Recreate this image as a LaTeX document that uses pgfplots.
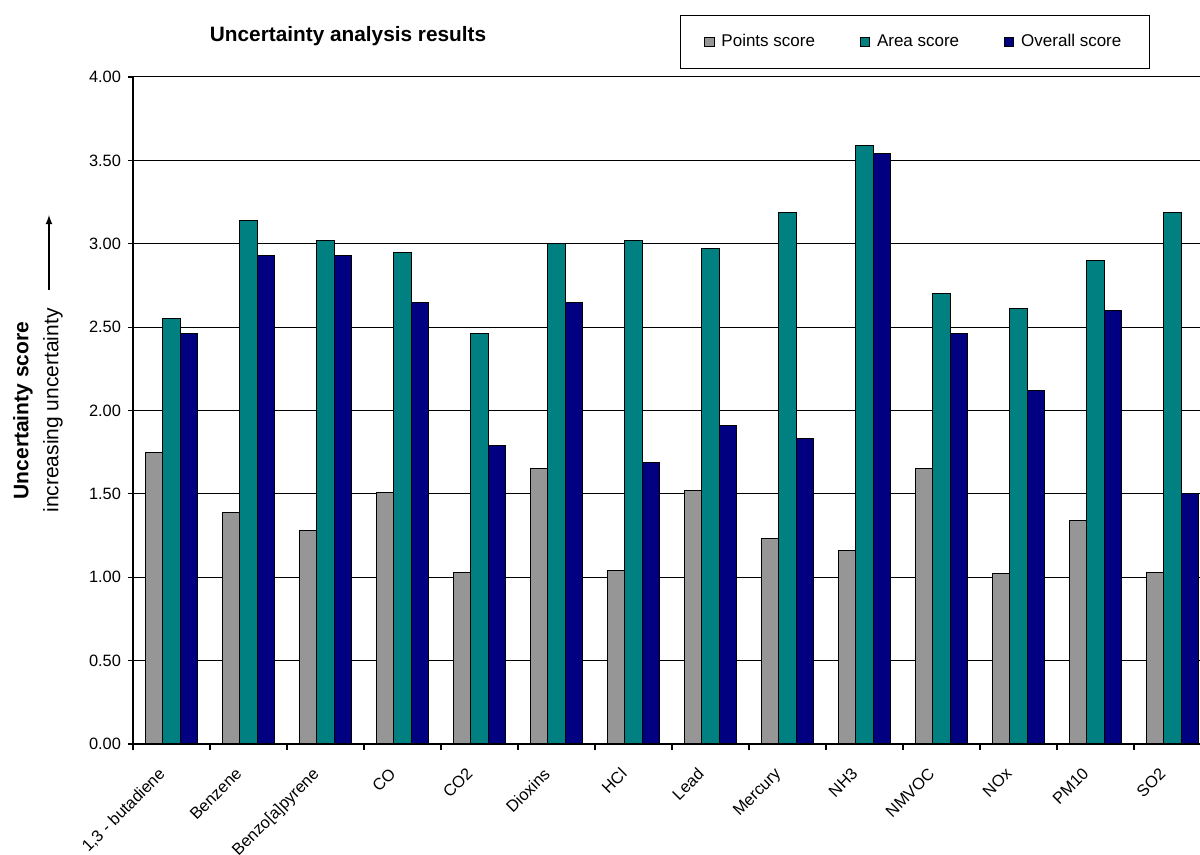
\documentclass[border=0pt]{standalone}
\usepackage{fontspec}
\setmainfont{Liberation Sans}
\usepackage{pgfplots}
\usepackage{pgfplotstable}
\pgfplotsset{compat=1.18}
\definecolor{cgray}{HTML}{969696}
\definecolor{cteal}{HTML}{008080}
\definecolor{cnavy}{HTML}{000080}

\pgfplotstableread{
idx pts area overall
0 1.75 2.55 2.46
1 1.39 3.14 2.93
2 1.28 3.02 2.93
3 1.51 2.95 2.65
4 1.03 2.46 1.79
5 1.65 3.00 2.65
6 1.04 3.02 1.69
7 1.52 2.97 1.91
8 1.23 3.19 1.83
9 1.16 3.59 3.54
10 1.65 2.70 2.46
11 1.02 2.61 2.12
12 1.34 2.90 2.60
13 1.03 3.19 1.50
}\datatable

\begin{document}
\begin{tikzpicture}
\useasboundingbox (0pt,0pt) rectangle (600pt,427.5pt);
\clip (0pt,0pt) rectangle (600pt,427.5pt);
\begin{axis}[
  at={(66.5pt,55.5pt)}, anchor=south west,
  scale only axis, width=539pt, height=333.5pt,
  ybar=0pt, bar width=0.225,
  xmin=-0.5, xmax=13.5, ymin=0, ymax=4,
  axis lines*=left,
  axis line style={black, line width=0.6pt},
  tick align=outside,
  xtick={0,...,13},
  xticklabels={{1,3 - butadiene},Benzene,{Benzo[a]pyrene},CO,CO2,Dioxins,HCl,Lead,Mercury,NH3,NMVOC,NOx,PM10,SO2},
  minor xtick={-0.5,0.5,...,13.5},
  major x tick style={draw=none},
  minor tick length=3pt,
  major tick length=2.5pt,
  tick style={black, line width=0.6pt},
  xticklabel style={xshift=-7pt, yshift=-4pt, rotate=45, anchor=north east, font=\fontsize{8.2}{10}\selectfont},
  ytick={0,0.5,...,4},
  yticklabel style={font=\fontsize{8.2}{10}\selectfont, /pgf/number format/.cd, fixed, fixed zerofill, precision=2},
  /pgf/number format/assume math mode=true,
  ymajorgrids,
  major grid style={black, line width=0.5pt},
  ylabel={\textbf{Uncertainty score}\\increasing uncertainty},
  ylabel style={align=center, font=\fontsize{10.5}{15}\selectfont, at={(axis description cs:-0.0881,0.5)}, anchor=center},
  title={Uncertainty analysis results},
  title style={at={(axis description cs:0.1995,1.0645)}, anchor=center, yshift=-7pt, font=\bfseries\fontsize{10.4}{12}\selectfont},
  legend columns=3,
  legend style={at={(axis description cs:0.5074,1.093)}, anchor=north west, draw=black, line width=0.5pt,
    font=\fontsize{8.5}{10}\selectfont, inner xsep=12pt, inner ysep=7.2pt,
    nodes={text height=6.2pt, text depth=1.8pt},
    /tikz/every odd column/.append style={column sep=1.5pt},
    /tikz/every even column/.append style={column sep=20.5pt}},
  legend image code/.code={\draw[#1, line width=0.4pt] (0pt,-2.3pt) rectangle (4.6pt,2.3pt);},
]
\addplot[fill=cgray, draw=black, line width=0.5pt] table[x=idx, y=pts] {\datatable};
\addplot[fill=cteal, draw=black, line width=0.5pt] table[x=idx, y=area] {\datatable};
\addplot[fill=cnavy, draw=black, line width=0.5pt] table[x=idx, y=overall] {\datatable};
\legend{Points score, Area score, Overall score}
\end{axis}
\draw[-latex, line width=0.6pt] (24.5pt,282.5pt) -- (24.5pt,320pt);
\end{tikzpicture}
\end{document}
